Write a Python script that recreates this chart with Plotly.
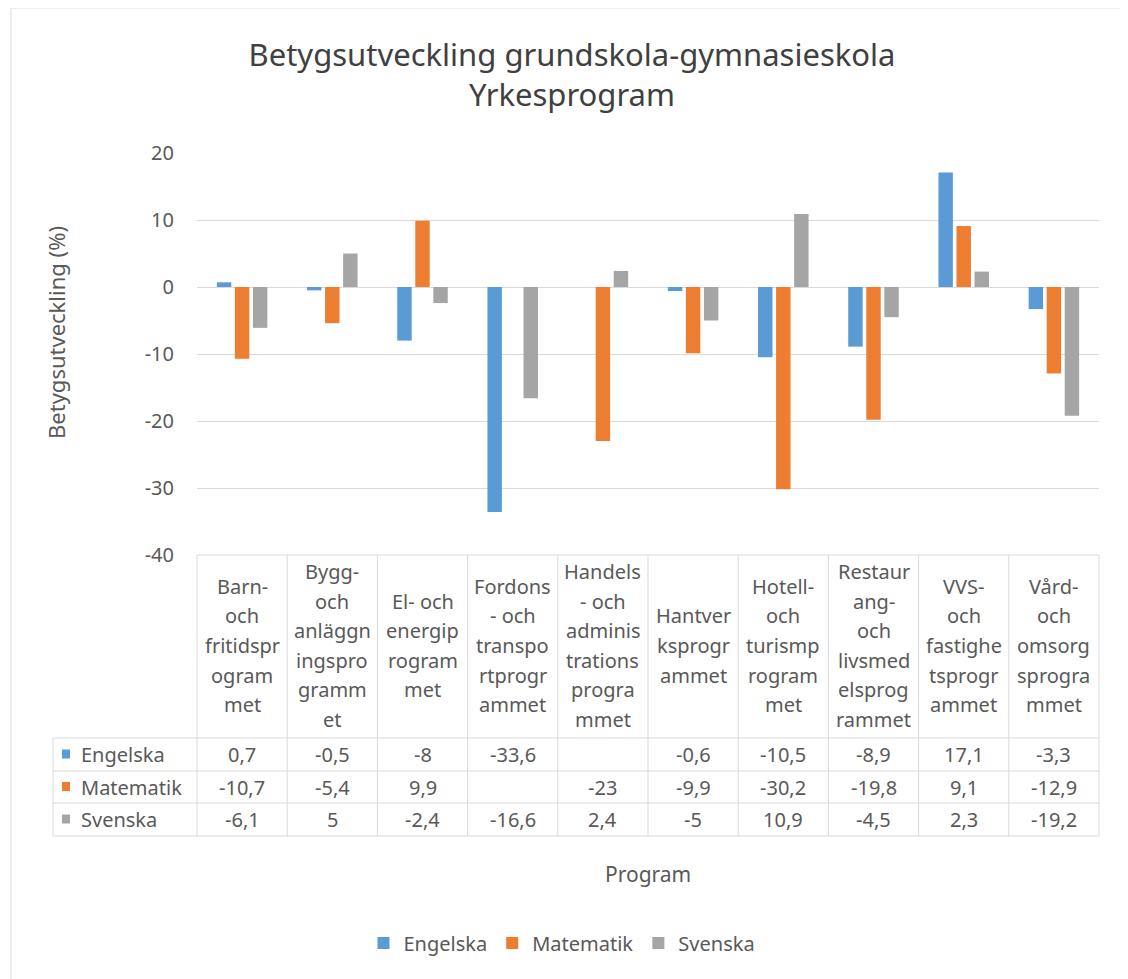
import plotly.graph_objects as go

# ---------------- data ----------------
categories = [
    "Barn- och fritidsprogrammet",
    "Bygg- och anläggningsprogrammet",
    "El- och energiprogrammet",
    "Fordons- och transportprogrammet",
    "Handels- och administrationsprogrammet",
    "Hantverksprogrammet",
    "Hotell- och turismprogrammet",
    "Restaurang- och livsmedelsprogrammet",
    "VVS- och fastighetsprogrammet",
    "Vård- och omsorgsprogrammet",
]
header_lines = [
    ["Barn-", "och", "fritidspr", "ogram", "met"],
    ["Bygg-", "och", "anläggn", "ingspro", "gramm", "et"],
    ["El- och", "energip", "rogram", "met"],
    ["Fordons", "- och", "transpo", "rtprogr", "ammet"],
    ["Handels", "- och", "adminis", "trations", "progra", "mmet"],
    ["Hantver", "ksprogr", "ammet"],
    ["Hotell-", "och", "turismp", "rogram", "met"],
    ["Restaur", "ang-", "och", "livsmed", "elsprog", "rammet"],
    ["VVS-", "och", "fastighe", "tsprogr", "ammet"],
    ["Vård-", "och", "omsorg", "sprogra", "mmet"],
]
engelska = [0.7, -0.5, -8, -33.6, None, -0.6, -10.5, -8.9, 17.1, -3.3]
matematik = [-10.7, -5.4, 9.9, None, -23, -9.9, -30.2, -19.8, 9.1, -12.9]
svenska = [-6.1, 5, -2.4, -16.6, 2.4, -5, 10.9, -4.5, 2.3, -19.2]

series_names = ["Engelska", "Matematik", "Svenska"]
series_values = [engelska, matematik, svenska]
series_colors = ["#5B9BD5", "#ED7D31", "#A5A5A5"]

y_ticks = [-40, -30, -20, -10, 0, 10, 20]
y_ticktext = ["-40", "-30", "-20", "-10", "0", "10", "20"]

title_text = "Betygsutveckling grundskola-gymnasieskola<br>Yrkesprogram"
y_title = "Betygsutveckling (%)"
x_title = "Program"

# ---------------- layout constants (page pixels) ----------------
PAGE_W, PAGE_H = 1128, 979
OFF = 8                      # default body margin of the html page
W, H = PAGE_W - OFF, PAGE_H - OFF
PL, PR, PT, PB = 197, 1099, 153, 555   # plot area on the page
TABLE_LEFT = 53
HEADER_BOTTOM = 738
ROW_BOUNDS = [738, 771, 803, 836]
TEXT = "#595959"
GRID = "#D9D9D9"
FONT = "Noto Sans"


def px_x(x):
    return (x - PL) / (PR - PL)


def px_y(y):
    return (PB - y) / (PB - PT)


def fmt(v):
    if v is None:
        return ""
    if float(v).is_integer():
        return str(int(v))
    return str(v).replace(".", ",")


fig = go.Figure()
for name, vals, col in zip(series_names, series_values, series_colors):
    fig.add_trace(go.Bar(x=categories, y=vals, name=name, marker_color=col,
                         marker_line_width=0))

shapes = []
annotations = []

# table grid lines
line = dict(color=GRID, width=1)
shapes.append(dict(type="line", xref="paper", yref="paper", x0=0, x1=1,
                   y0=px_y(PB), y1=px_y(PB), line=line))
for yb in ROW_BOUNDS:
    shapes.append(dict(type="line", xref="paper", yref="paper",
                       x0=px_x(TABLE_LEFT), x1=1, y0=px_y(yb), y1=px_y(yb), line=line))
n = len(categories)
for i in range(n + 1):
    shapes.append(dict(type="line", xref="paper", yref="paper", x0=i / n, x1=i / n,
                       y0=px_y(PB), y1=px_y(ROW_BOUNDS[-1]), line=line))
shapes.append(dict(type="line", xref="paper", yref="paper",
                   x0=px_x(TABLE_LEFT), x1=px_x(TABLE_LEFT),
                   y0=px_y(ROW_BOUNDS[0]), y1=px_y(ROW_BOUNDS[-1]), line=line))

# outer chart frame
shapes.append(dict(type="rect", xref="paper", yref="paper",
                   x0=px_x(11), x1=px_x(1126), y0=px_y(8), y1=px_y(995),
                   line=dict(color=GRID, width=1)))

# header text (wrapped category names)
LINE_H = 29.6
head_mid = 645.5
for cat, lines in zip(categories, header_lines):
    k = len(lines)
    for j, t in enumerate(lines):
        yc = head_mid + (j - (k - 1) / 2) * LINE_H
        annotations.append(dict(x=cat, xref="x", y=px_y(yc), yref="paper",
                                text=t, showarrow=False, xanchor="center",
                                yanchor="middle", font=dict(size=20, color=TEXT, family=FONT)))

# data rows
for r, (name, vals, col) in enumerate(zip(series_names, series_values, series_colors)):
    yc = (ROW_BOUNDS[r] + ROW_BOUNDS[r + 1]) / 2
    shapes.append(dict(type="rect", xref="paper", yref="paper",
                       x0=px_x(62), x1=px_x(70), y0=px_y(yc - 5), y1=px_y(yc + 4),
                       fillcolor=col, line=dict(width=0)))
    annotations.append(dict(x=px_x(79), xref="paper", y=px_y(yc), yref="paper",
                            text=name, showarrow=False, xanchor="left", yanchor="middle",
                            font=dict(size=20, color=TEXT, family=FONT)))
    for cat, v in zip(categories, vals):
        annotations.append(dict(x=cat, xref="x", y=px_y(yc), yref="paper",
                                text=fmt(v), showarrow=False, xanchor="center",
                                yanchor="middle", font=dict(size=20, color=TEXT, family=FONT)))

# axis titles
annotations.append(dict(x=px_x(56), xref="paper", y=px_y(333), yref="paper",
                        text=y_title, textangle=-90, showarrow=False,
                        xanchor="center", yanchor="middle",
                        font=dict(size=22, color=TEXT, family=FONT)))
annotations.append(dict(x=0.5, xref="paper", y=px_y(874), yref="paper",
                        text=x_title, showarrow=False, xanchor="center", yanchor="middle",
                        font=dict(size=21, color=TEXT, family=FONT)))

fig.update_layout(
    width=W, height=H, autosize=False,
    margin=dict(l=PL - OFF, r=PAGE_W - PR, t=PT - OFF, b=PAGE_H - PB, pad=0),
    paper_bgcolor="white", plot_bgcolor="white",
    title=dict(text=title_text, x=(572 - OFF) / W, xanchor="center",
               y=1 - (66 - OFF) / H, yanchor="middle",
               font=dict(size=31, color="#404040", family=FONT)),
    barmode="group", bargap=0.4, bargroupgap=0.2,
    xaxis=dict(showticklabels=False, showgrid=False, showline=False, zeroline=False,
               ticks=""),
    yaxis=dict(range=[-40, 20], tickvals=y_ticks, ticktext=y_ticktext,
               showgrid=True, gridcolor=GRID,
               gridwidth=1, zeroline=True, zerolinecolor=GRID, zerolinewidth=1,
               showline=False, ticks="", ticklabelstandoff=22,
               tickfont=dict(size=20, color=TEXT, family=FONT)),
    legend=dict(orientation="h", x=px_x(562), xanchor="center",
                y=px_y(943), yanchor="middle",
                font=dict(size=20, color=TEXT, family=FONT), itemwidth=30,
                bgcolor="rgba(0,0,0,0)"),
    shapes=shapes, annotations=annotations,
)

fig.write_html("out.html")
